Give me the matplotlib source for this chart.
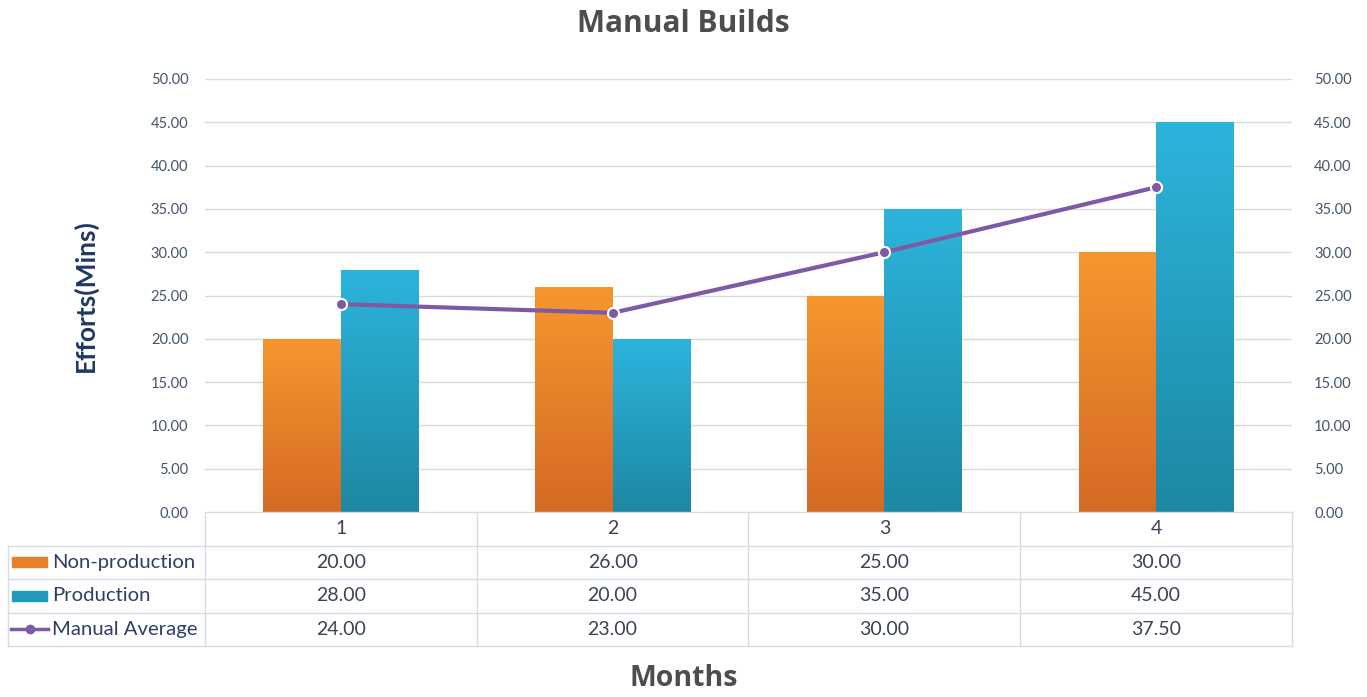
import numpy as np
import matplotlib.pyplot as plt
from matplotlib.patches import Rectangle
from matplotlib.lines import Line2D

months = ['1', '2', '3', '4']
non_production = [20.00, 26.00, 25.00, 30.00]
production = [28.00, 20.00, 35.00, 45.00]
manual_average = [24.00, 23.00, 30.00, 37.50]
series_names = ['Non-production', 'Production', 'Manual Average']
yticks = np.arange(0, 51, 5)

W, H = 1367, 697
plt.rcParams['font.family'] = ['Lato', 'DejaVu Sans']

fig = plt.figure(figsize=(W / 100, H / 100), dpi=100)
fig.patch.set_facecolor('white')

# main plot area in pixel units
left, right, bottom, top = 205, 1292, 512, 79
ax = fig.add_axes([left / W, 1 - bottom / H, (right - left) / W, (bottom - top) / H])
x = np.arange(len(months))
ax.set_xlim(-0.5, len(months) - 0.5)
ax.set_ylim(0, 50)

bw = 0.285
grid_c = '#D9D9D9'
for t in yticks[1:]:
    ax.axhline(t, color=grid_c, lw=1, zorder=0)

def grad_bar(xc, h, c_top, c_bot):
    r = Rectangle((xc - bw / 2, 0), bw, h, facecolor='none', edgecolor='none')
    ax.add_patch(r)
    ct = np.array(plt.matplotlib.colors.to_rgb(c_top))
    cb = np.array(plt.matplotlib.colors.to_rgb(c_bot))
    t = np.linspace(0, 1, 100)[:, None]
    img = (ct * (1 - t) + cb * t)[:, None, :]
    im = ax.imshow(img, extent=(xc - bw / 2, xc + bw / 2, 0, h), aspect='auto',
                   zorder=2, interpolation='bilinear')
    im.set_clip_path(r)

for i in range(len(months)):
    grad_bar(x[i] - bw / 2, non_production[i], '#F7962F', '#D56A24')
    grad_bar(x[i] + bw / 2, production[i], '#2DB4DC', '#1D88A3')

line_c = '#7E5AA6'
ax.plot(x, manual_average, color=line_c, lw=3, zorder=4,
        marker='o', ms=8, mfc=line_c, mec='white', mew=1.5)

ax.set_yticks(yticks)
ax.set_yticklabels(['%.2f' % v for v in yticks])
ax.set_xticks([])
tick_c = '#44546A'
ax.tick_params(axis='y', length=0, labelsize=10.5, labelcolor=tick_c, pad=12)
for s in ax.spines.values():
    s.set_visible(False)

ax2 = ax.twinx()
ax2.set_ylim(0, 50)
ax2.set_yticks(yticks)
ax2.set_yticklabels(['%.2f' % v for v in yticks])
ax2.tick_params(axis='y', length=0, labelsize=10.5, labelcolor=tick_c, pad=16)
for s in ax2.spines.values():
    s.set_visible(False)

ax.set_ylabel('Efforts(Mins)', fontsize=19, fontweight='bold', color='#1F3864', labelpad=38)

# data table under the plot
tl, tb = 8, 646
cw = (right - left) / len(months)
tax = fig.add_axes([tl / W, 1 - tb / H, (right - tl) / W, (tb - bottom) / H])
tax.set_xlim(-0.5 - (left - tl) / cw, len(months) - 0.5)
tax.set_ylim(4, 0)
tax.axis('off')
tab_c = '#D6DCE5'
x0 = tax.get_xlim()[0]
for r in [1, 2, 3, 4]:
    tax.plot([x0, len(months) - 0.5], [r, r], color=tab_c, lw=1, clip_on=False)
tax.plot([-0.5, len(months) - 0.5], [0, 0], color=tab_c, lw=1, clip_on=False)
for k in range(len(months) + 1):
    tax.plot([k - 0.5, k - 0.5], [0, 4], color=tab_c, lw=1, clip_on=False)
tax.plot([x0, x0], [1, 4], color=tab_c, lw=1, clip_on=False)

val_c = '#3A4357'
for i, m in enumerate(months):
    tax.text(x[i], 0.5, m, ha='center', va='center', fontsize=14, color=val_c)
for r, vals in enumerate([non_production, production, manual_average], start=1):
    for i, v in enumerate(vals):
        tax.text(x[i], r + 0.5, '%.2f' % v, ha='center', va='center', fontsize=14, color=val_c)

px = lambda p: -0.5 + (p - left) / cw
tax.add_patch(Rectangle((px(12), 1.35), px(47) - px(12), 0.3, color='#E8802A', clip_on=False))
tax.add_patch(Rectangle((px(12), 2.35), px(47) - px(12), 0.3, color='#2399BC', clip_on=False))
tax.add_line(Line2D([px(11), px(48)], [3.5, 3.5], color=line_c, lw=2.5, clip_on=False))
tax.plot([(px(11) + px(48)) / 2], [3.5], 'o', color=line_c, ms=6, clip_on=False)
for r, name in enumerate(series_names, start=1):
    tax.text(px(52), r + 0.5, name, ha='left', va='center', fontsize=14.6, color='#2F3E66')

fig.text(0.5, 1 - 24 / H, 'Manual Builds', ha='center', va='center', family='Open Sans',
         fontsize=21.5, fontweight='bold', color='#4D4D4D')
fig.text(0.5, 1 - 679 / H, 'Months', ha='center', va='center', family='Open Sans',
         fontsize=20.5, fontweight='bold', color='#4D4D4D')

fig.savefig('out.png', dpi=100)
